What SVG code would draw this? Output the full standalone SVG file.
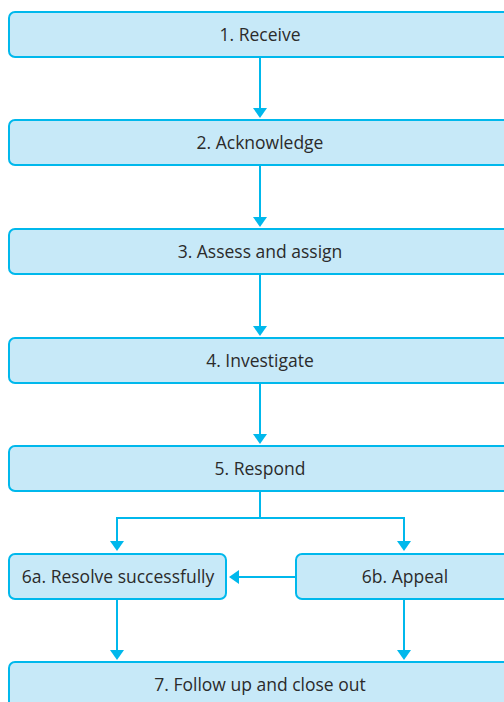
<svg xmlns="http://www.w3.org/2000/svg" width="504" height="702" viewBox="0 0 504 702">
<style>
.box{fill:#c7e9f8;stroke:#00b8ec;stroke-width:2}
.lbl{font-family:"Open Sans","Liberation Sans",sans-serif;font-size:17.5px;fill:#2b2b2b;text-anchor:middle}
.con{fill:none;stroke:#00b8ec;stroke-width:2}
.ah{fill:#00b8ec}
</style>
<rect width="504" height="702" fill="#ffffff"/>
<g id="n1"><rect class="box" x="9" y="12" width="504" height="45" rx="6"/><text class="lbl" x="260" y="41">1. Receive</text></g>
<g id="n2"><rect class="box" x="9" y="120" width="504" height="45" rx="6"/><text class="lbl" x="260" y="149">2. Acknowledge</text></g>
<g id="n3"><rect class="box" x="9" y="229" width="504" height="45" rx="6"/><text class="lbl" x="260" y="258">3. Assess and assign</text></g>
<g id="n4"><rect class="box" x="9" y="338" width="504" height="45" rx="6"/><text class="lbl" x="260" y="367">4. Investigate</text></g>
<g id="n5"><rect class="box" x="9" y="446" width="504" height="45" rx="6"/><text class="lbl" x="260" y="475">5. Respond</text></g>
<g id="n6a"><rect class="box" x="9" y="554" width="217" height="45" rx="6"/><text class="lbl" x="118" y="583">6a. Resolve successfully</text></g>
<g id="n6b"><rect class="box" x="296" y="554" width="218" height="45" rx="6"/><text class="lbl" x="405" y="583">6b. Appeal</text></g>
<g id="n7"><rect class="box" x="9" y="662" width="504" height="45" rx="6"/><text class="lbl" x="260" y="691">7. Follow up and close out</text></g>
<g id="connectors">
<path class="con" d="M260 57V109"/><path class="ah" d="M253 108H267L260 118Z"/>
<path class="con" d="M260 165V218"/><path class="ah" d="M253 217H267L260 227Z"/>
<path class="con" d="M260 274V327"/><path class="ah" d="M253 326H267L260 336Z"/>
<path class="con" d="M260 383V435"/><path class="ah" d="M253 434H267L260 444Z"/>
<path class="con" d="M260 491V518H117V542M260 518H404V542"/>
<path class="ah" d="M110 541H124L117 551Z"/><path class="ah" d="M397 541H411L404 551Z"/>
<path class="con" d="M296 577H238"/><path class="ah" d="M239 570V584L229 577Z"/>
<path class="con" d="M117 599V651"/><path class="ah" d="M110 650H124L117 660Z"/>
<path class="con" d="M404 599V651"/><path class="ah" d="M397 650H411L404 660Z"/>
</g>
</svg>
